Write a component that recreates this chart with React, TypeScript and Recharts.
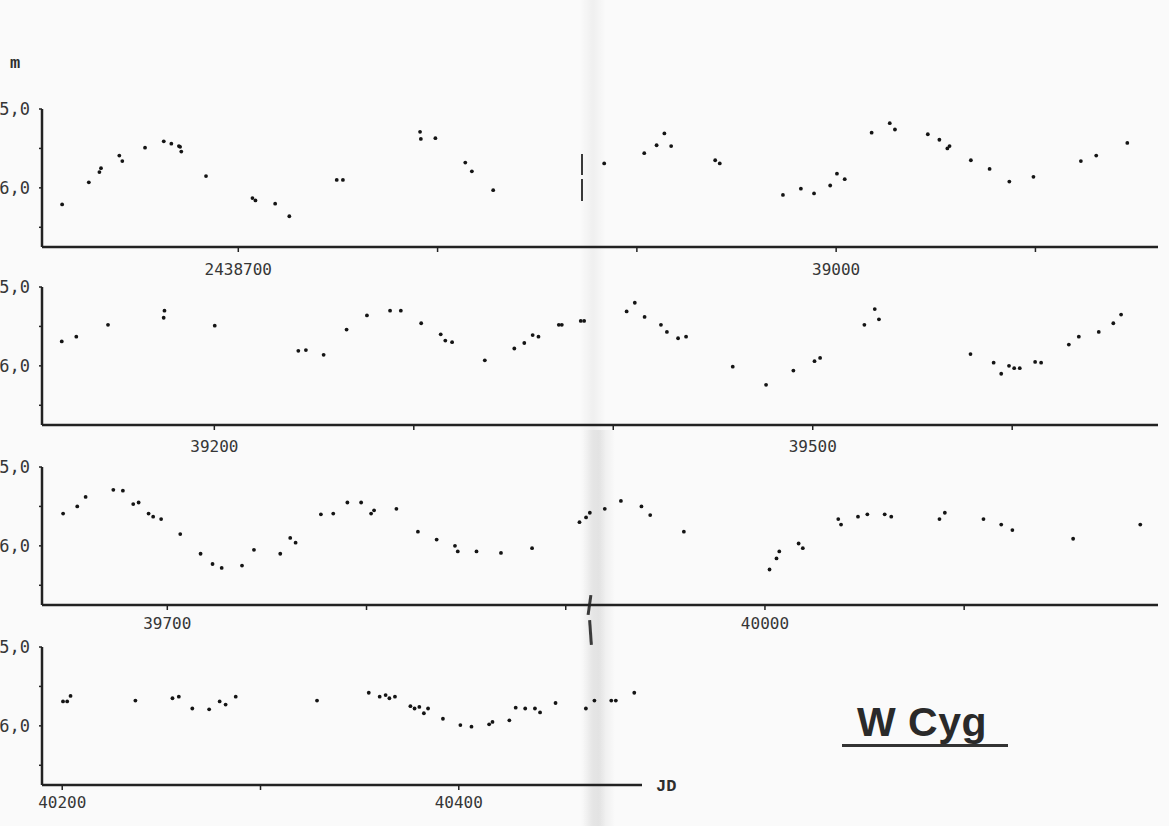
import React from 'react';
import { ScatterChart, Scatter, XAxis, YAxis } from 'recharts';

// ---- magnitude axis (shared by all four strips) ----
const magDomain: [number, number] = [5.0, 6.75];
const magTicks = [5.0, 5.5, 6.0, 6.5];
const magLabels: Record<string, string> = { '5': '5,0', '6': '6,0' };

// ---- strip 1 ----
const ticks1 = [38700, 38800, 38900, 39000, 39100];
const labels1: Record<string, string> = { '38700': '2438700', '39000': '39000' };
const jd1 = [38611.6, 38625.0, 38630.3, 38631.1, 38640.3, 38641.8, 38653.2, 38662.6, 38666.4, 38670.2, 38670.8, 38671.4, 38683.8, 38707.1, 38708.6, 38718.5, 38725.6, 38749.4, 38752.5, 38791.2, 38791.6, 38798.9, 38813.9, 38817.2, 38827.9, 38883.6, 38903.7, 38909.9, 38913.8, 38917.2, 38939.3, 38941.6, 38973.3, 38982.3, 38988.9, 38997.0, 39000.4, 39004.3, 39017.8, 39026.9, 39029.5, 39046.0, 39051.8, 39055.8, 39056.9, 39067.6, 39077.0, 39086.9, 39099.0, 39122.8, 39130.5, 39146.1];
const mag1 = [6.21, 5.93, 5.80, 5.75, 5.59, 5.66, 5.49, 5.41, 5.44, 5.47, 5.48, 5.54, 5.85, 6.13, 6.16, 6.20, 6.36, 5.90, 5.90, 5.29, 5.38, 5.37, 5.68, 5.79, 6.03, 5.69, 5.56, 5.46, 5.31, 5.47, 5.65, 5.69, 6.09, 6.01, 6.07, 5.97, 5.82, 5.89, 5.30, 5.18, 5.26, 5.32, 5.39, 5.50, 5.47, 5.65, 5.76, 5.92, 5.86, 5.66, 5.59, 5.43];

// ---- strip 2 ----
const ticks2 = [39200, 39300, 39400, 39500, 39600];
const labels2: Record<string, string> = { '39200': '39200', '39500': '39500' };
const jd2 = [39123.5, 39130.8, 39146.7, 39174.6, 39175.0, 39200.2, 39242.1, 39245.9, 39254.8, 39266.3, 39276.5, 39288.1, 39293.5, 39303.7, 39313.5, 39315.8, 39319.2, 39335.6, 39350.4, 39355.4, 39359.6, 39362.5, 39372.7, 39374.2, 39383.7, 39385.4, 39406.7, 39410.8, 39415.7, 39423.9, 39426.9, 39432.5, 39436.5, 39459.9, 39476.6, 39490.3, 39500.9, 39503.7, 39525.9, 39531.1, 39533.2, 39579.1, 39590.7, 39594.5, 39598.4, 39601.0, 39603.8, 39611.5, 39614.5, 39628.4, 39633.4, 39643.4, 39650.7, 39654.6];
const mag2 = [5.69, 5.63, 5.48, 5.39, 5.30, 5.49, 5.81, 5.80, 5.86, 5.54, 5.36, 5.30, 5.30, 5.46, 5.60, 5.68, 5.70, 5.93, 5.78, 5.71, 5.61, 5.63, 5.48, 5.48, 5.43, 5.43, 5.31, 5.20, 5.38, 5.48, 5.57, 5.65, 5.63, 6.01, 6.24, 6.06, 5.94, 5.90, 5.48, 5.28, 5.41, 5.85, 5.96, 6.10, 6.00, 6.03, 6.03, 5.95, 5.96, 5.73, 5.63, 5.57, 5.46, 5.35];

// ---- strip 3 ----
const ticks3 = [39700, 39800, 39900, 40000, 40100];
const labels3: Record<string, string> = { '39700': '39700', '40000': '40000' };
const jd3 = [39647.7, 39654.8, 39659.0, 39672.9, 39677.7, 39682.9, 39685.6, 39690.6, 39692.9, 39696.9, 39706.5, 39716.7, 39722.7, 39727.3, 39737.5, 39743.5, 39756.7, 39761.7, 39764.4, 39777.1, 39783.3, 39790.4, 39797.3, 39802.3, 39803.8, 39815.0, 39825.8, 39835.2, 39844.4, 39845.8, 39855.2, 39867.5, 39883.1, 39906.9, 39910.2, 39912.1, 39919.6, 39927.7, 39938.0, 39942.4, 39959.3, 40002.3, 40005.8, 40007.2, 40016.9, 40019.0, 40036.8, 40038.2, 40046.7, 40051.4, 40060.1, 40063.4, 40087.6, 40090.3, 40109.7, 40118.6, 40124.2, 40154.7, 40188.4];
const mag3 = [5.59, 5.50, 5.38, 5.29, 5.30, 5.47, 5.45, 5.59, 5.63, 5.66, 5.85, 6.10, 6.23, 6.28, 6.25, 6.05, 6.10, 5.90, 5.96, 5.60, 5.59, 5.45, 5.45, 5.59, 5.55, 5.53, 5.82, 5.92, 6.00, 6.07, 6.07, 6.09, 6.03, 5.70, 5.64, 5.58, 5.53, 5.43, 5.50, 5.61, 5.82, 6.30, 6.16, 6.07, 5.97, 6.03, 5.66, 5.73, 5.63, 5.60, 5.60, 5.63, 5.66, 5.58, 5.66, 5.73, 5.80, 5.91, 5.73];

// ---- strip 4 ----
const ticks4 = [40200, 40300, 40400];
const labels4: Record<string, string> = { '40200': '40200', '40400': '40400' };
const jd4 = [40200.4, 40202.5, 40204.2, 40236.9, 40255.6, 40258.8, 40265.6, 40274.1, 40279.4, 40282.4, 40287.5, 40328.5, 40354.6, 40360.1, 40363.1, 40365.0, 40367.8, 40375.6, 40377.7, 40380.1, 40382.4, 40384.5, 40392.0, 40400.8, 40406.4, 40415.3, 40417.0, 40425.5, 40428.7, 40433.5, 40438.4, 40441.0, 40448.8, 40464.1, 40468.4, 40476.9, 40479.2, 40488.5];
const mag4 = [5.69, 5.69, 5.62, 5.68, 5.65, 5.63, 5.78, 5.79, 5.69, 5.73, 5.63, 5.68, 5.58, 5.63, 5.61, 5.65, 5.63, 5.75, 5.78, 5.76, 5.84, 5.78, 5.91, 5.99, 6.01, 5.98, 5.95, 5.93, 5.77, 5.78, 5.78, 5.83, 5.71, 5.78, 5.68, 5.68, 5.68, 5.58];

const INK = '#222222';
const MONO = '"DejaVu Sans Mono", "Liberation Mono", monospace';
const TYPE = '"Liberation Mono", "DejaVu Sans Mono", monospace';

const Dot = (props: any) => <circle cx={props.cx} cy={props.cy} r={1.9} fill="#141414" />;

type PanelProps = {
  top: number;
  plotRight: number;
  domain: [number, number];
  ticks: number[];
  labels: Record<string, string>;
  jd: number[];
  mag: number[];
  labelGap: number;
};

const MARGIN_TOP = 14;
const PLOT_H = 138;
const XAXIS_H = 40;
const YAXIS_W = 42;

function Panel({ top, plotRight, domain, ticks, labels, jd, mag, labelGap }: PanelProps) {
  const data = jd.map((x, i) => ({ jd: x, mag: mag[i] }));
  return (
    <div style={{ position: 'absolute', left: 0, top: top - MARGIN_TOP }}>
      <ScatterChart
        width={plotRight}
        height={MARGIN_TOP + PLOT_H + XAXIS_H}
        margin={{ top: MARGIN_TOP, right: 0, bottom: 0, left: 0 }}
      >
        <XAxis
          type="number"
          dataKey="jd"
          domain={domain}
          allowDataOverflow
          ticks={ticks}
          interval={0}
          height={XAXIS_H}
          tickSize={5}
          tickMargin={labelGap}
          tickFormatter={(v: number) => labels[String(v)] ?? ''}
          axisLine={{ stroke: INK, strokeWidth: 2.5 }}
          tickLine={{ stroke: INK, strokeWidth: 1.5 }}
          tick={{ fill: '#363636', fontSize: 16, fontFamily: MONO }}
        />
        <YAxis
          type="number"
          dataKey="mag"
          domain={magDomain}
          reversed
          allowDataOverflow
          ticks={magTicks}
          interval={0}
          width={YAXIS_W}
          tickSize={3}
          tickMargin={9}
          tickFormatter={(v: number) => magLabels[String(v)] ?? ''}
          axisLine={{ stroke: INK, strokeWidth: 2.5 }}
          tickLine={{ stroke: INK, strokeWidth: 1.5 }}
          tick={{ fill: '#363636', fontSize: 17, fontFamily: MONO }}
        />
        <Scatter data={data} isAnimationActive={false} shape={Dot} />
      </ScatterChart>
    </div>
  );
}

export default function App() {
  return (
    <div
      style={{
        position: 'absolute',
        left: 0,
        top: 0,
        width: 1169,
        height: 826,
        background: '#fafafa',
        overflow: 'hidden',
        fontFamily: MONO,
      }}
    >
      {/* page gutter shading of the scan */}
      <div
        style={{
          position: 'absolute',
          left: 580,
          top: 0,
          width: 26,
          height: 826,
          background: 'linear-gradient(to right, rgba(0,0,0,0), rgba(0,0,0,0.045), rgba(0,0,0,0))',
        }}
      />
      <div
        style={{
          position: 'absolute',
          left: 583,
          top: 430,
          width: 32,
          height: 396,
          background: 'linear-gradient(to right, rgba(0,0,0,0), rgba(0,0,0,0.07), rgba(0,0,0,0))',
        }}
      />
      {/* staple marks in the gutter */}
      <div style={{ position: 'absolute', left: 581, top: 154, width: 2, height: 21, background: '#3a3a3a' }} />
      <div style={{ position: 'absolute', left: 581, top: 179, width: 2, height: 22, background: '#3a3a3a' }} />
      <div style={{ position: 'absolute', left: 588, top: 595, width: 3, height: 20, background: '#3a3a3a', transform: 'rotate(8deg)' }} />
      <div style={{ position: 'absolute', left: 589, top: 620, width: 3, height: 25, background: '#3a3a3a', transform: 'rotate(-4deg)' }} />

      <div style={{ position: 'absolute', left: 10, top: 54, fontSize: 17, color: '#2e2e2e', fontFamily: TYPE, fontWeight: 700 }}>m</div>

      <Panel top={109} plotRight={1158} domain={[38601.5, 39161.5]} ticks={ticks1} labels={labels1} jd={jd1} mag={mag1} labelGap={12} />
      <Panel top={287} plotRight={1158} domain={[39113.6, 39673.1]} ticks={ticks2} labels={labels2} jd={jd2} mag={mag2} labelGap={11} />
      <Panel top={467} plotRight={1158} domain={[39637.1, 40197.3]} ticks={ticks3} labels={labels3} jd={jd3} mag={mag3} labelGap={8} />
      <Panel top={647} plotRight={642} domain={[40189.8, 40492.4]} ticks={ticks4} labels={labels4} jd={jd4} mag={mag4} labelGap={7} />

      <div style={{ position: 'absolute', left: 656, top: 777, fontSize: 17, color: '#2e2e2e', fontFamily: TYPE, fontWeight: 700 }}>JD</div>

      <div
        style={{
          position: 'absolute',
          left: 857,
          top: 700,
          fontFamily: '"Liberation Sans", Arial, sans-serif',
          fontWeight: 700,
          fontSize: 41,
          color: '#2a2a2a',
          letterSpacing: 0.5,
          lineHeight: '44px',
        }}
      >
        W Cyg
      </div>
      <div style={{ position: 'absolute', left: 842, top: 744, width: 166, height: 3, background: '#333' }} />
    </div>
  );
}
